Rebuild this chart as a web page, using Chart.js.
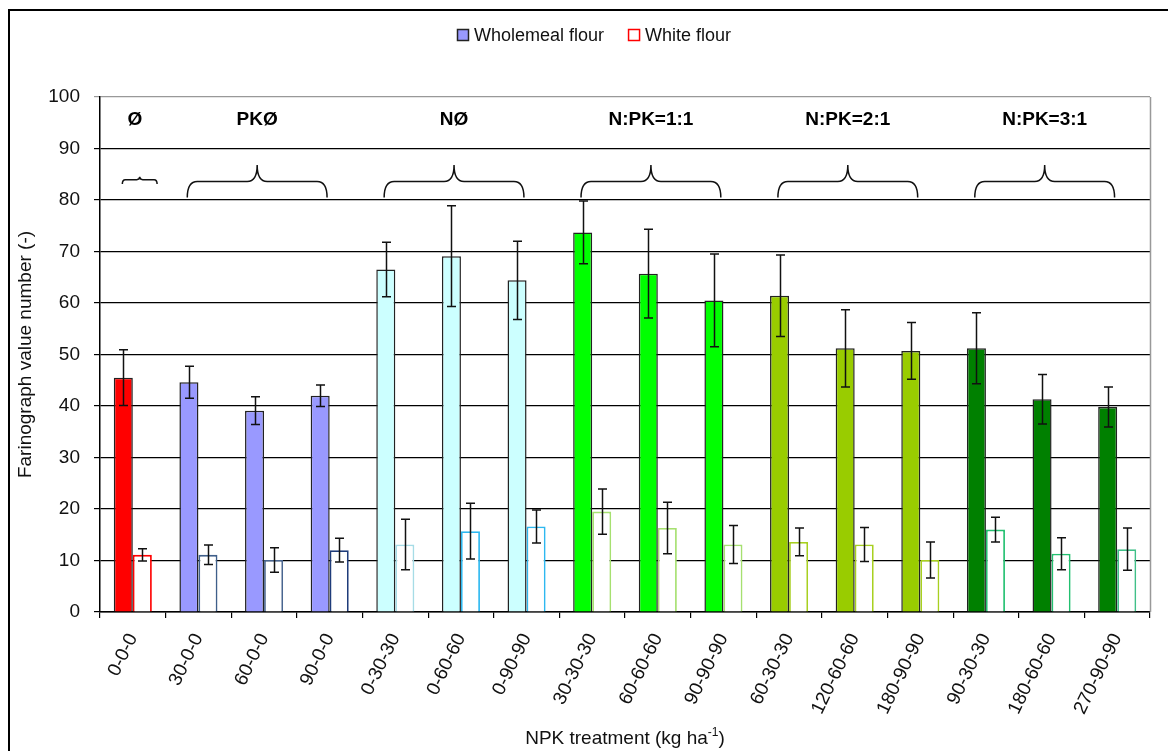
<!DOCTYPE html>
<html>
<head>
<meta charset="utf-8">
<title>Farinograph value number by NPK treatment</title>
<script src="https://cdn.jsdelivr.net/npm/chart.js@4/dist/chart.umd.min.js"></script>
<style>
  html, body { margin: 0; padding: 0; background: #fff; }
  #wrap { width: 1168px; height: 751px; position: relative; }
  canvas { display: block; }
</style>
</head>
<body>
<div id="wrap"><canvas id="chart" width="1168" height="751"></canvas></div>
<script>
// NPK treatments (kg ha-1)
const treatments = ['0-0-0', '30-0-0', '60-0-0', '90-0-0', '0-30-30', '0-60-60', '0-90-90',
  '30-30-30', '60-60-60', '90-90-90', '60-30-30', '120-60-60', '180-90-90',
  '90-30-30', '180-60-60', '270-90-90'];

// Farinograph value number, mean and error
const wholemeal    = [45.5, 44.6, 39.1, 42.0, 66.5, 69.1, 64.4, 73.7, 65.7, 60.5, 61.4, 51.2, 50.7, 51.2, 41.3, 39.8];
const wholemealErr = [5.4, 3.1, 2.7, 2.1, 5.3, 9.8, 7.6, 6.1, 8.6, 9.0, 7.9, 7.5, 5.5, 6.9, 4.8, 3.9];
const whiteFlour    = [11.1, 11.1, 10.1, 12.0, 13.1, 15.7, 16.6, 19.5, 16.3, 13.1, 13.6, 13.1, 10.1, 16.0, 11.3, 12.2];
const whiteFlourErr = [1.2, 1.9, 2.4, 2.3, 4.9, 5.4, 3.2, 4.4, 5.0, 3.7, 2.7, 3.3, 3.5, 2.4, 3.1, 4.1];

// Treatment groups shown above the bars
const groupLabels = ['Ø', 'PKØ', 'NØ', 'N:PK=1:1', 'N:PK=2:1', 'N:PK=3:1'];
const groupFirst  = [0, 1, 4, 7, 10, 13];
const groupLast   = [0, 3, 6, 9, 12, 15];

// Colours per treatment
const wholemealFill = ['#FF0000', '#9999FF', '#9999FF', '#9999FF', '#CCFFFF', '#CCFFFF', '#CCFFFF',
  '#00FF00', '#00FF00', '#00FF00', '#99CC00', '#99CC00', '#99CC00', '#008000', '#008000', '#008000'];
const whiteEdge = ['#FF0000', '#3F5F8A', '#4A6690', '#1F3C7A', '#A6DCE6', '#2DB8F0', '#2DB8F0',
  '#A6E070', '#A6E070', '#A6E070', '#A8D020', '#A8D020', '#A8D020', '#22C070', '#22C070', '#40C088'];

const FONT = '"Liberation Sans", Arial, sans-serif';

// Error bars for every bar, placed through the chart scales
const errorBars = {
  id: 'errorBars',
  afterDatasetsDraw(chart) {
    const ctx = chart.ctx, y = chart.scales.y;
    ctx.save();
    ctx.strokeStyle = '#111';
    ctx.lineWidth = 1.5;
    chart.data.datasets.forEach((ds, di) => {
      const meta = chart.getDatasetMeta(di);
      meta.data.forEach((bar, i) => {
        const v = ds.data[i], e = ds.errors[i];
        const x = Math.round(bar.x) + 0.5;
        const yt = y.getPixelForValue(v + e), yb = y.getPixelForValue(v - e);
        ctx.beginPath();
        ctx.moveTo(x, yt); ctx.lineTo(x, yb);
        ctx.moveTo(x - 4.5, yt); ctx.lineTo(x + 4.5, yt);
        ctx.moveTo(x - 4.5, yb); ctx.lineTo(x + 4.5, yb);
        ctx.stroke();
      });
    });
    ctx.restore();
  }
};

function brace(ctx, x1, x2, yEnd, yFlat, yTip, r, r2) {
  const xm = (x1 + x2) / 2;
  ctx.beginPath();
  ctx.moveTo(x1, yEnd);
  ctx.quadraticCurveTo(x1, yFlat, x1 + r, yFlat);
  ctx.lineTo(xm - r2, yFlat);
  ctx.quadraticCurveTo(xm, yFlat, xm, yTip);
  ctx.quadraticCurveTo(xm, yFlat, xm + r2, yFlat);
  ctx.lineTo(x2 - r, yFlat);
  ctx.quadraticCurveTo(x2, yFlat, x2, yEnd);
  ctx.stroke();
}

// Frame, legend, group braces, right plot edge and x-axis title
const decorations = {
  id: 'decorations',
  beforeDraw(chart) {
    const ctx = chart.ctx;
    ctx.save();
    ctx.fillStyle = '#fff';
    ctx.fillRect(0, 0, chart.width, chart.height);
    ctx.restore();
  },
  afterDraw(chart) {
    const ctx = chart.ctx, xs = chart.scales.x, ys = chart.scales.y, area = chart.chartArea;
    ctx.save();

    // outer frame
    ctx.strokeStyle = '#000';
    ctx.lineWidth = 2;
    ctx.strokeRect(9, 10, 1300, 900);

    // right edge of the plot
    ctx.strokeStyle = '#999';
    ctx.lineWidth = 1.5;
    ctx.beginPath();
    ctx.moveTo(area.right + 0.5, area.top);
    ctx.lineTo(area.right + 0.5, area.bottom);
    ctx.stroke();

    // legend
    ctx.font = '18px ' + FONT;
    ctx.textBaseline = 'middle';
    let lx = 457;
    const ly = 35;
    chart.data.datasets.forEach(ds => {
      ctx.fillStyle = ds.legendFill;
      ctx.fillRect(lx, ly - 6, 12, 12);
      ctx.strokeStyle = ds.legendEdge;
      ctx.lineWidth = 1.5;
      ctx.strokeRect(lx + 0.5, ly - 5.5, 11, 11);
      ctx.fillStyle = '#111';
      ctx.textAlign = 'left';
      ctx.fillText(ds.label, lx + 17, ly + 1);
      lx += 17 + ctx.measureText(ds.label).width + 24;
    });

    // group labels and braces
    ctx.strokeStyle = '#111';
    ctx.lineWidth = 1.5;
    ctx.fillStyle = '#000';
    ctx.font = 'bold 19px ' + FONT;
    ctx.textAlign = 'center';
    groupLabels.forEach((label, g) => {
      const first = groupFirst[g], last = groupLast[g];
      if (first === last) {
        const x1 = xs.getPixelForValue(first - 0.16), x2 = xs.getPixelForValue(first + 0.37);
        brace(ctx, x1, x2, ys.getPixelForValue(83.1), ys.getPixelForValue(83.95), ys.getPixelForValue(84.5), 3, 3);
        ctx.fillText(label, xs.getPixelForValue(first + 0.03), ys.getPixelForValue(95.6));
      } else {
        const x1 = xs.getPixelForValue(first - 0.17), x2 = xs.getPixelForValue(last - 0.04);
        brace(ctx, x1, x2, ys.getPixelForValue(80.5), ys.getPixelForValue(83.6), ys.getPixelForValue(86.8), 10, 10);
        ctx.fillText(label, (x1 + x2) / 2, ys.getPixelForValue(95.6));
      }
    });

    // x-axis title with superscript
    const main = 'NPK treatment (kg ha', sup = '-1', close = ')';
    const big = '19px ' + FONT, small = '12px ' + FONT;
    ctx.font = big;
    const w1 = ctx.measureText(main).width, w3 = ctx.measureText(close).width;
    ctx.font = small;
    const w2 = ctx.measureText(sup).width;
    let tx = (area.left + area.right) / 2 - (w1 + w2 + w3) / 2;
    const ty = 744;
    ctx.textAlign = 'left';
    ctx.textBaseline = 'alphabetic';
    ctx.fillStyle = '#111';
    ctx.font = big;
    ctx.fillText(main, tx, ty);
    ctx.font = small;
    ctx.fillText(sup, tx + w1, ty - 8);
    ctx.font = big;
    ctx.fillText(close, tx + w1 + w2, ty);

    ctx.restore();
  }
};

new Chart(document.getElementById('chart'), {
  type: 'bar',
  data: {
    labels: treatments,
    datasets: [
      {
        label: 'Wholemeal flour',
        data: wholemeal,
        errors: wholemealErr,
        backgroundColor: wholemealFill,
        borderColor: '#222',
        borderWidth: 1.5,
        legendFill: '#9999FF',
        legendEdge: '#222'
      },
      {
        label: 'White flour',
        data: whiteFlour,
        errors: whiteFlourErr,
        backgroundColor: '#FFFFFF',
        borderColor: whiteEdge,
        borderWidth: 1.8,
        legendFill: '#FFFFFF',
        legendEdge: '#FF0000'
      }
    ]
  },
  options: {
    responsive: false,
    animation: false,
    layout: { padding: { top: 97, right: 18, left: 0, bottom: 0 } },
    datasets: { bar: { categoryPercentage: 0.58, barPercentage: 1 } },
    plugins: { legend: { display: false }, tooltip: { enabled: false } },
    scales: {
      x: {
        grid: { display: true, drawOnChartArea: false, drawTicks: true, tickLength: 6, color: '#000', lineWidth: 1.2, offset: true },
        border: { color: '#000', width: 1.5 },
        ticks: { color: '#111', font: { family: FONT, size: 19 }, minRotation: 64, maxRotation: 64, autoSkip: false, padding: 12 },
        afterFit(scale) { scale.height = 139; }
      },
      y: {
        min: 0,
        max: 100,
        ticks: { stepSize: 10, color: '#111', font: { family: FONT, size: 19 }, padding: 14 },
        grid: {
          color: c => (c.tick && c.tick.value === 100) ? '#999' : '#000',
          lineWidth: 1.2, tickLength: 6, drawTicks: true
        },
        border: { color: '#000', width: 1.5 },
        title: { display: true, text: 'Farinograph value number (-)', color: '#111', font: { family: FONT, size: 19 }, padding: { top: 14, bottom: 0 } },
        afterFit(scale) { scale.width = 100; }
      }
    }
  },
  plugins: [decorations, errorBars]
});
</script>
</body>
</html>
